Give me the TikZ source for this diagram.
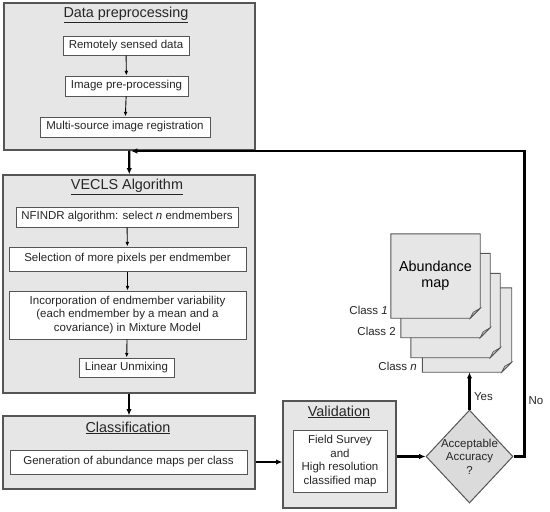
\documentclass[tikz,border=0pt]{standalone}
\usepackage{fontspec}
\setmainfont{Liberation Sans}
\usetikzlibrary{positioning, arrows.meta, shapes.geometric}
\definecolor{panel}{HTML}{E6E6E6}
\definecolor{edge}{HTML}{555555}
\tikzstyle{outer}=[draw=edge, line width=1.3pt, fill=panel, inner sep=0pt]
\tikzstyle{box}=[draw=edge, line width=1pt, fill=white, align=center, inner sep=0pt]
\tikzstyle{ttl}=[font=\fontsize{14.4}{16.5}\selectfont, align=center]
\tikzstyle{ar}=[-{Latex[length=1.6mm, width=1.3mm]}, line width=0.9pt]
\tikzstyle{bigar}=[-{Latex[length=2.2mm, width=1.9mm]}, line width=2.2pt]
\tikzstyle{sheet}=[minimum width=89pt, minimum height=84pt, inner sep=0pt]

\begin{document}
\begin{tikzpicture}[x=1pt, y=-1pt, font=\fontsize{11.5}{13.6}\selectfont, text=black!85]
    \useasboundingbox (0,0) rectangle (550,512);
    % data preprocessing
    \node[outer, minimum width=251pt, minimum height=147pt] (dp) at (129.5,76.5) {};
    \node[ttl] (dpt) at (126,15) {\underline{Data preprocessing}};
    \node[box, minimum width=126pt, minimum height=19pt] (rsd)  at (126,45.5) {Remotely sensed data};
    \node[box, minimum width=123pt, minimum height=20pt] (ipp)  at (126.5,86) {Image pre-processing};
    \node[box, minimum width=170pt, minimum height=20pt] (mreg) at (125,127) {Multi-source image registration};
    \draw[ar] (rsd)--(ipp); \draw[ar] (ipp)--(mreg);

    % VECLS
    \node[outer, minimum width=252pt, minimum height=218pt] (vecls) at (129,284) {};
    \node[ttl] (vt) at (127,187) {\underline{VECLS Algorithm}};
    \node[box, minimum width=222pt, minimum height=20pt] (nfr) at (127,217) {NFINDR algorithm: select \textit{n} endmembers};
    \node[box, minimum width=237pt, minimum height=24pt] (sel) at (127.5,259) {Selection of more pixels per endmember};
    \node[box, minimum width=237pt, minimum height=48pt] (inc) at (127.5,315)
        {Incorporation of endmember variability\\(each endmember by a mean and a\\covariance) in Mixture Model};
    \node[box, minimum width=95pt, minimum height=19pt] (lum) at (126.5,367.5) {Linear Unmixing};
    \draw[ar] (nfr)--(sel); \draw[ar] (sel)--(inc); \draw[ar] (inc)--(lum);

    % classification
    \node[outer, minimum width=252pt, minimum height=73pt] (cls) at (129,452.5) {};
    \node[ttl] (ct) at (128,428) {\underline{Classification}};
    \node[box, minimum width=237pt, minimum height=24pt] (gen) at (128.5,462) {Generation of abundance maps per class};

    % validation
    \node[outer, minimum width=113pt, minimum height=107pt] (val) at (339.5,454.5) {};
    \node[ttl] (vlt) at (339,412) {\underline{Validation}};
    \node[box, minimum width=94pt, minimum height=62pt] (fs) at (340,461) {Field Survey\\and\\High resolution\\classified map};

    \node[diamond, draw=edge, line width=1pt, fill=gray!28, minimum width=87pt, minimum height=93pt, inner sep=0pt,
          label={[align=center]center:Acceptable\\Accuracy\\?}] (acc) at (469.5,456.5) {};

    % abundance maps
    \node[sheet] (s1) at (435.5,276) {};
    \node[sheet] (s2) at (445.5,295.5) {};
    \node[sheet] (s3) at (455.5,315.5) {};
    \node[sheet] (s4) at (467,330) {};
    \foreach \s in {s4,s3,s2,s1} {
      \filldraw[fill=panel, draw=edge, line width=0.9pt] (\s.north west) -- (\s.north east)
        -- ([yshift=10pt]\s.south east) -- ([xshift=-10pt]\s.south east) -- (\s.south west) -- cycle;
      \filldraw[fill=gray!50, draw=edge, line width=0.6pt] ([yshift=10pt]\s.south east)
        -- ([xshift=-10pt]\s.south east) -- ([xshift=-7pt,yshift=6pt]\s.south east) -- cycle;
    }
    \node[ttl, text=black] (abt) at (s1) {Abundance\\map};
    \node[anchor=east, inner sep=0pt] (c1) at (388,310) {Class \textit{1}};
    \node[anchor=east, inner sep=0pt] (c2) at (396,331) {Class 2};
    \node[anchor=east, inner sep=0pt] (cn) at (417,366) {Class \textit{n}};

    \node (yes) at (483.5,397) {Yes};
    \node (no) at (536,401) {No};
    \coordinate (merge) at (131,151);

    % main flow
    \draw[bigar] (dp)--(vecls); \draw[bigar] (vecls)--(cls);
    \draw[bigar] (gen.east -| cls.east)--(gen.east -| val.west);
    \draw[bigar] (val.east |- acc.west)--(acc.west);
    \draw[bigar] (acc.north)--(acc.north |- s4.south);
    \draw[bigar] (acc.east) -- ++(11,0) |- (merge);
  \end{tikzpicture}
\end{document}
